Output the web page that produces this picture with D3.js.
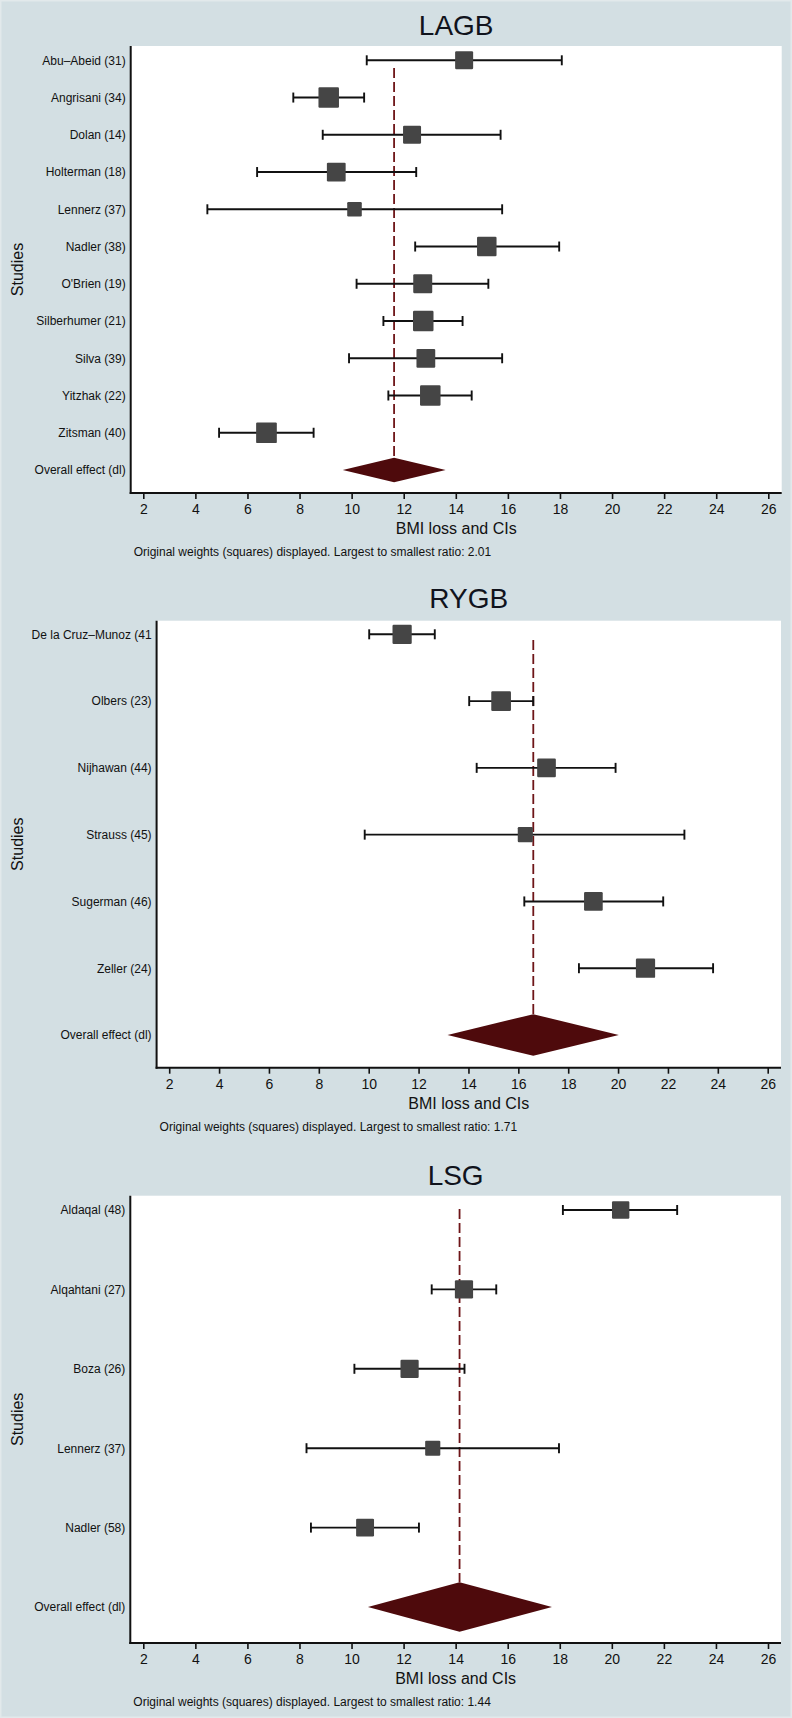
<!DOCTYPE html>
<html>
<head>
<meta charset="utf-8">
<script src="https://cdn.jsdelivr.net/npm/d3@7"></script>
<style>
  html, body { margin: 0; padding: 0; background: #d3dfe3; }
  svg { display: block; }
  text { font-family: "Liberation Sans", Arial, Helvetica, sans-serif; fill: #111; }
</style>
</head>
<body>
<svg id="chart" width="792" height="1718"></svg>
<script>
// ---------- DATA ----------
const xTicks = [2, 4, 6, 8, 10, 12, 14, 16, 18, 20, 22, 24, 26];
const overallLabel = "Overall effect (dl)";

// LAGB
const lagbStudies = ["Abu–Abeid (31)", "Angrisani (34)", "Dolan (14)", "Holterman (18)", "Lennerz (37)", "Nadler (38)", "O'Brien (19)", "Silberhumer (21)", "Silva (39)", "Yitzhak (22)", "Zitsman (40)"];
const lagbEffect = [14.32, 9.12, 12.32, 9.41, 10.11, 15.19, 12.73, 12.75, 12.85, 13.02, 6.73];
const lagbLower  = [10.58, 7.76, 8.89, 6.37, 4.46, 12.44, 10.19, 11.22, 9.90, 11.41, 4.91];
const lagbUpper  = [18.07, 10.48, 15.72, 12.48, 15.78, 17.97, 15.25, 14.26, 15.78, 14.61, 8.54];
const lagbWeight = [8.1, 10.5, 8.1, 8.8, 5.3, 9.5, 9.0, 10.5, 8.8, 10.5, 10.7];
const lagbOverall = [9.66, 11.63, 13.61];
const lagbNote = "Original weights (squares) displayed. Largest to smallest ratio: 2.01";

// RYGB
const rygbStudies = ["De la Cruz–Munoz (41", "Olbers (23)", "Nijhawan (44)", "Strauss (45)", "Sugerman (46)", "Zeller (24)"];
const rygbEffect = [11.34, 15.31, 17.13, 16.28, 19.01, 21.10];
const rygbLower  = [10.02, 14.03, 14.33, 9.84, 16.24, 18.43];
const rygbUpper  = [12.65, 16.60, 19.90, 22.66, 21.81, 23.81];
const rygbWeight = [18.0, 18.9, 17.0, 11.1, 17.0, 18.0];
const rygbOverall = [13.16, 16.60, 20.03];
const rygbNote = "Original weights (squares) displayed. Largest to smallest ratio: 1.71";

// LSG
const lsgStudies = ["Aldaqal (48)", "Alqahtani (27)", "Boza (26)", "Lennerz (37)", "Nadler (58)"];
const lsgEffect = [20.34, 14.32, 12.23, 13.12, 10.52];
const lsgLower  = [18.12, 13.08, 10.11, 8.27, 8.44];
const lsgUpper  = [22.51, 15.56, 14.34, 17.97, 12.59];
const lsgWeight = [19.9, 21.8, 21.8, 15.1, 21.1];
const lsgOverall = [10.63, 14.15, 17.70];
const lsgNote = "Original weights (squares) displayed. Largest to smallest ratio: 1.44";

// ---------- LAYOUT ----------
const panels = [
  { title: "LAGB", studies: lagbStudies, effect: lagbEffect, lower: lagbLower, upper: lagbUpper, weight: lagbWeight, overall: lagbOverall, note: lagbNote,
    layout: { left: 130.7, right: 781.7, top: 46, axisY: 493, x0: 143.3, x1: 768.3, first: 60.3, last: 470, titleY: 25, maxSide: 20.7, diamondH: 12.2, dashTop: 68 } },
  { title: "RYGB", studies: rygbStudies, effect: rygbEffect, lower: rygbLower, upper: rygbUpper, weight: rygbWeight, overall: rygbOverall, note: rygbNote,
    layout: { left: 156.6, right: 781, top: 620.7, axisY: 1067.7, x0: 169.2, x1: 767.7, first: 634.3, last: 1035, titleY: 598, maxSide: 19.7, diamondH: 20.8, dashTop: 640 } },
  { title: "LSG", studies: lsgStudies, effect: lsgEffect, lower: lsgLower, upper: lsgUpper, weight: lsgWeight, overall: lsgOverall, note: lsgNote,
    layout: { left: 130.3, right: 781, top: 1195.7, axisY: 1643, x0: 143.3, x1: 768, first: 1210, last: 1607, titleY: 1175, maxSide: 18.2, diamondH: 24.7, dashTop: 1209 } }
];

const svg = d3.select("#chart");
svg.append("rect").attr("x", 0).attr("y", 0).attr("width", 792).attr("height", 1718).attr("fill", "#d3dfe3");
svg.append("rect").attr("x", 0.75).attr("y", 0.75).attr("width", 790.5).attr("height", 1716.5)
  .attr("fill", "none").attr("stroke", "#e2e9eb").attr("stroke-width", 1.5);

panels.forEach(p => {
  const L = p.layout;
  const g = svg.append("g");
  const x = d3.scaleLinear().domain([xTicks[0], xTicks[xTicks.length - 1]]).range([L.x0, L.x1]);
  const y = d3.scalePoint().domain([...p.studies, overallLabel]).range([L.first, L.last]);
  const maxW = d3.max(p.weight);
  const side = d3.scaleSqrt().domain([0, maxW]).range([0, L.maxSide]);

  // plot region
  g.append("rect").attr("x", L.left).attr("y", L.top).attr("width", L.right - L.left).attr("height", L.axisY - L.top).attr("fill", "#ffffff");

  // title
  g.append("text").attr("x", (L.left + L.right) / 2).attr("y", L.titleY + 10)
    .attr("text-anchor", "middle").attr("font-size", 28).style("fill", "#10131c").text(p.title);

  // reference dashed line (overall effect)
  g.append("line").attr("x1", x(p.overall[1])).attr("x2", x(p.overall[1]))
    .attr("y1", L.dashTop).attr("y2", y(overallLabel) - L.diamondH)
    .attr("stroke", "#6e1518").attr("stroke-width", 1.8).attr("stroke-dasharray", "10,4");

  // CI whiskers
  const rows = p.studies.map((s, i) => ({ s, e: p.effect[i], lo: p.lower[i], hi: p.upper[i], w: p.weight[i] }));
  const rg = g.append("g").selectAll("g").data(rows).join("g");
  rg.append("line").attr("x1", d => x(d.lo)).attr("x2", d => x(d.hi)).attr("y1", d => y(d.s)).attr("y2", d => y(d.s))
    .attr("stroke", "#111").attr("stroke-width", 1.9);
  rg.append("line").attr("x1", d => x(d.lo)).attr("x2", d => x(d.lo)).attr("y1", d => y(d.s) - 5).attr("y2", d => y(d.s) + 5)
    .attr("stroke", "#111").attr("stroke-width", 1.9);
  rg.append("line").attr("x1", d => x(d.hi)).attr("x2", d => x(d.hi)).attr("y1", d => y(d.s) - 5).attr("y2", d => y(d.s) + 5)
    .attr("stroke", "#111").attr("stroke-width", 1.9);
  // weight squares
  rg.append("rect")
    .attr("x", d => x(d.e) - side(d.w) / 2).attr("y", d => y(d.s) - side(d.w) / 2)
    .attr("width", d => side(d.w)).attr("height", d => side(d.w))
    .attr("rx", 1.2).attr("fill", "#454545");

  // overall diamond
  const oy = y(overallLabel);
  g.append("path")
    .attr("d", d3.line()([[x(p.overall[0]), oy], [x(p.overall[1]), oy - L.diamondH], [x(p.overall[2]), oy], [x(p.overall[1]), oy + L.diamondH]]) + "Z")
    .attr("fill", "#4e0a0c");

  // y axis labels
  const yAxis = g.append("g").attr("transform", `translate(${L.left},0)`)
    .call(d3.axisLeft(y).tickSize(0).tickPadding(5));
  yAxis.select(".domain").remove();
  yAxis.selectAll("text").attr("font-size", 12).attr("font-family", null).style("fill", "#111");

  // axis lines
  g.append("line").attr("x1", L.left).attr("x2", L.left).attr("y1", L.top).attr("y2", L.axisY + 1)
    .attr("stroke", "#111").attr("stroke-width", 2);
  g.append("line").attr("x1", L.left - 1).attr("x2", L.right).attr("y1", L.axisY).attr("y2", L.axisY)
    .attr("stroke", "#111").attr("stroke-width", 2);

  // x axis
  const xAxis = g.append("g").attr("transform", `translate(0,${L.axisY})`)
    .call(d3.axisBottom(x).tickValues(xTicks).tickSize(6).tickPadding(5).tickFormat(d3.format("d")));
  xAxis.select(".domain").remove();
  xAxis.selectAll(".tick line").attr("stroke", "#111").attr("stroke-width", 1.6);
  xAxis.selectAll("text").attr("font-size", 14).attr("font-family", null).style("fill", "#111");

  // x axis title
  g.append("text").attr("x", (L.left + L.right) / 2).attr("y", L.axisY + 41)
    .attr("text-anchor", "middle").attr("font-size", 16).text("BMI loss and CIs");

  // y axis title
  g.append("text").attr("transform", `translate(23,${(L.top + L.axisY) / 2}) rotate(-90)`)
    .attr("text-anchor", "middle").attr("font-size", 16).text("Studies");

  // note
  g.append("text").attr("x", L.left + 3).attr("y", L.axisY + 63)
    .attr("font-size", 12).text(p.note);
});
</script>
</body>
</html>
